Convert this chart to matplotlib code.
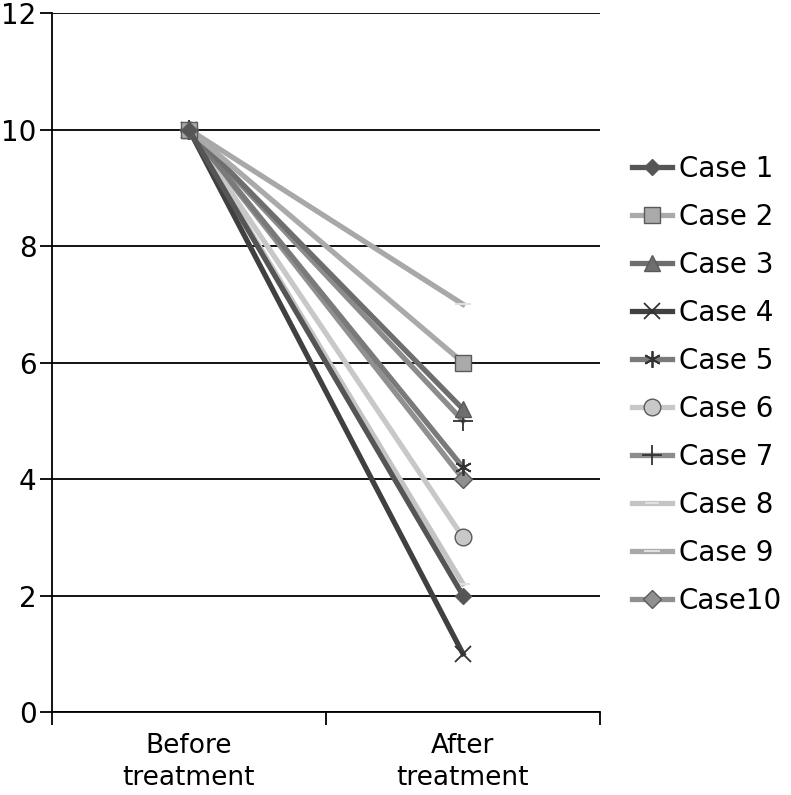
import matplotlib
matplotlib.use("Agg")
import matplotlib.pyplot as plt

categories = ["Before\ntreatment", "After\ntreatment"]
case_names = ["Case 1", "Case 2", "Case 3", "Case 4", "Case 5",
              "Case 6", "Case 7", "Case 8", "Case 9", "Case10"]
before = [10, 10, 10, 10, 10, 10, 10, 10, 10, 10]
after = [2, 6, 5.2, 1, 4.2, 3, 5, 2.2, 7, 4]

colors = ["#555555", "#aaaaaa", "#6e6e6e", "#404040", "#7a7a7a",
          "#c8c8c8", "#8c8c8c", "#c4c4c4", "#a8a8a8", "#909090"]
markers = ["D", "s", "^", "x", (6, 2, 0), "o", "+", "_", "_", "D"]
msizes = [8, 12, 11, 12, 12, 12, 14, 10, 12, 9]

fig = plt.figure(figsize=(7.91, 7.95), dpi=100)
ax = fig.add_axes([0.0657, 0.1044, 0.6928, 0.8792])

# draw from last to first so case 1 sits on top like the original
for i in range(len(case_names) - 1, -1, -1):
    m = markers[i]
    filled = m in ("D", "s", "^", "o")
    if filled:
        ec, ew = "#5a5a5a", 1
    elif m == "_":
        ec, ew = "#e0e0e0", 1.5
    else:
        ec, ew = "#333333", 1.3
    ax.plot([0, 1], [before[i], after[i]], color=colors[i], lw=3.8,
            marker=m, markersize=msizes[i],
            markerfacecolor=colors[i], markeredgecolor=ec,
            markeredgewidth=ew,
            label=case_names[i], zorder=3 + (10 - i) * 0.1)

ax.set_xlim(-0.5, 1.5)
ax.set_ylim(0, 12)
ax.set_yticks(range(0, 13, 2))
ax.set_xticks([0, 1])
ax.set_xticklabels(categories, fontsize=19, linespacing=1.3)
ax.set_xticks([-0.5, 0.5, 1.5], minor=True)
ax.tick_params(axis="x", which="major", length=0, pad=15)
ax.tick_params(axis="x", which="minor", length=9, width=1.3, direction="out")
ax.tick_params(axis="y", length=9, width=1.3, direction="out", labelsize=20, pad=2)
ax.grid(axis="y", color="black", lw=1.3, zorder=1)
ax.set_axisbelow(True)
for s in ["top", "right"]:
    ax.spines[s].set_visible(False)
for s in ["left", "bottom"]:
    ax.spines[s].set_linewidth(1.3)

handles, labels = ax.get_legend_handles_labels()
handles, labels = handles[::-1], labels[::-1]
leg = fig.legend(handles, labels, loc="center left", bbox_to_anchor=(0.767, 0.516),
                 frameon=False, fontsize=20, handlelength=1.45, labelspacing=0.72,
                 handletextpad=0.25)

fig.savefig("out.png", dpi=100)
